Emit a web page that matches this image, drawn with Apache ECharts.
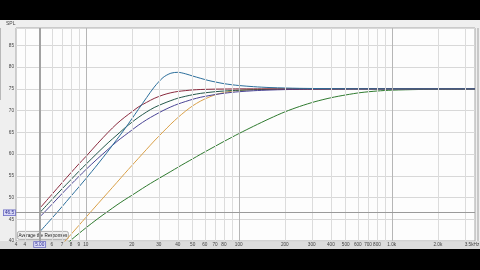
<!DOCTYPE html>
<html><head><meta charset="utf-8">
<script src="https://cdn.jsdelivr.net/npm/echarts@6/dist/echarts.min.js"></script>
<style>
html,body{margin:0;padding:0;background:#000;width:480px;height:270px;overflow:hidden}
#win{position:absolute;left:0;top:20px;width:480px;height:229px;background:#efefef}
#strip{position:absolute;left:0;top:241px;width:480px;height:8px;background:#dcdcdc}
#edgeL{position:absolute;left:0;top:28px;width:1px;height:72px;background:#b8b8b8}
#edgeR{position:absolute;left:477px;top:28px;width:2px;height:213px;background:#c8c8c8}
#c{position:absolute;left:0;top:0;width:480px;height:270px}
</style></head><body>
<div id="win"></div><div id="strip"></div><div id="edgeL"></div><div id="edgeR"></div><div id="c"></div>
<script>
// frequencies (Hz) shared by every response
const freqs = [5,6,7,8,9,10,12,14,16,18,20,22,25,28,32,36,40,45,50,56,63,71,80,90,100,125,160,200,250,315,400,500,630,800,1000,1500,2000,3500];
// SPL (dB) of each response
const lightGreen = [33.6,36.3,38.4,40.2,41.7,43.0,45.15,46.85,48.3,49.5,50.5,51.45,52.7,53.75,54.95,56.0,56.95,58.0,58.9,59.9,60.9,61.9,62.9,63.85,64.7,66.4,68.2,69.7,70.95,72.05,72.95,73.6,74.15,74.5,74.7,74.85,74.92,74.97];
const orange = [33.3,36.5,39.2,41.5,43.55,45.4,48.55,51.2,53.5,55.55,57.35,58.95,61.1,63.0,65.1,66.9,68.4,69.9,71.1,72.15,73.0,73.7,74.13,74.47,74.62,74.84,74.94,74.97,74.99,75,75,75,75,75,75,75,75,75];
const darkGreen = [46.5,49.5,52.0,54.1,56.0,57.6,60.35,62.6,64.4,66.0,67.3,68.4,69.7,70.7,71.6,72.3,72.85,73.3,73.65,73.95,74.17,74.36,74.5,74.61,74.68,74.8,74.88,74.92,74.95,74.97,74.98,74.99,75,75,75,75,75,75];
const purple = [45.5,48.4,50.9,53.0,54.8,56.4,59.0,61.1,62.9,64.3,65.5,66.6,67.9,68.9,70.0,70.85,71.5,72.1,72.6,73.05,73.4,73.73,73.98,74.19,74.34,74.57,74.73,74.83,74.89,74.93,74.96,74.97,74.98,74.99,75,75,75,75];
const red = [47.5,50.7,53.4,55.7,57.7,59.4,62.5,65.0,67.0,68.5,69.7,70.8,71.9,72.8,73.6,74.1,74.4,74.6,74.75,74.85,74.9,74.94,74.96,74.98,75,75,75,75,75,75,75,75,75,75,75,75,75,75];
const blue = [42.1,45.2,47.9,50.3,52.4,54.3,57.7,60.7,63.4,65.8,68.1,70.2,73.0,75.4,77.6,78.6,78.8,78.45,77.95,77.45,76.95,76.55,76.2,75.95,75.77,75.5,75.3,75.2,75.12,75.08,75.05,75.03,75.02,75.01,75,75,75,75];

// axis
const freqMin = 3.5, freqMax = 3500;
const splMin = 40, splMax = 89, splStep = 5;
const gridFreqs = [4,5,6,7,8,9,10,20,30,40,50,60,70,80,90,100,200,300,400,500,600,700,800,900,1000,2000,3000];
const majorFreqs = [10,100,1000];
const tickFreqs = [3.5,4,6,7,8,9,10,20,30,40,50,60,70,80,100,200,300,400,500,600,700,800,1000,2000,3500];
const tickLabels = ['4','4','6','7','8','9','10','20','30','40','50','60','70','80','100','200','300','400','500','600','700','800','1.0k','2.0k','3.5kHz'];
const cursorFreq = 5, cursorFreqLabel = '5.00';
const cursorSpl = 46.5, cursorSplLabel = '46.5';

const FONT = 'Liberation Sans';
const lbl = {fontFamily: FONT, fontSize: 4.7, color: '#444'};

const seriesDefs = [
  ['lightGreen', lightGreen, '#2f7a2f'],
  ['orange', orange, '#d9a048'],
  ['darkGreen', darkGreen, '#24584a'],
  ['purple', purple, '#4b4596'],
  ['red', red, '#8a2a3e'],
  ['blue', blue, '#2b6e9b']
];

const markData = [];
gridFreqs.forEach(f => markData.push({xAxis: f, lineStyle: {color: majorFreqs.includes(f) ? '#b6b6b6' : '#dcdcdc', width: 1, type: 'solid'}, label: {show: false}}));
tickFreqs.forEach((f, i) => markData.push({xAxis: f, lineStyle: {width: 0, color: 'rgba(0,0,0,0)'},
  label: Object.assign({show: true, position: 'start', distance: 1.5, formatter: tickLabels[i], offset: [i === tickFreqs.length - 1 ? -3 : 0, 0]}, lbl)}));
markData.push({xAxis: cursorFreq, lineStyle: {color: '#a2a2a2', width: 2, type: 'solid'},
  label: Object.assign({}, lbl, {show: true, position: 'start', distance: 1, formatter: cursorFreqLabel, color: '#2a2a90', backgroundColor: '#d9d9f6', borderColor: '#6a6ac4', borderWidth: 0.8, padding: [0, 1, 0, 1]})});
markData.push({yAxis: cursorSpl, lineStyle: {color: '#9a9a9a', width: 1.2, type: 'solid'},
  label: Object.assign({}, lbl, {show: true, position: 'start', distance: 1, formatter: cursorSplLabel, color: '#2a2a90', backgroundColor: '#d9d9f6', borderColor: '#6a6ac4', borderWidth: 0.8, padding: [0, 1, 0, 1]})});

const series = [{
  type: 'line', name: 'grid', data: [], z: 1, silent: true,
  markLine: {silent: true, symbol: ['none', 'none'], animation: false, data: markData}
}];
seriesDefs.forEach(([name, vals, color]) => series.push({
  type: 'line', name, z: 3, silent: true, clip: true,
  data: freqs.map((f, i) => [f, vals[i]]),
  symbol: 'none', showSymbol: false, smooth: 0.3,
  lineStyle: {width: 1, color}
}));

const chart = echarts.init(document.getElementById('c'), null, {renderer: 'canvas'});
chart.setOption({
  animation: false,
  backgroundColor: 'transparent',
  grid: {left: 16, right: 5, top: 28, bottom: 29, show: true, backgroundColor: '#fdfdfd', borderColor: '#a6a6a6', borderWidth: 1},
  xAxis: {type: 'log', logBase: 10, min: freqMin, max: freqMax,
    axisLine: {show: false}, axisTick: {show: false}, axisLabel: {show: false}, splitLine: {show: false}, minorSplitLine: {show: false}},
  yAxis: {type: 'value', min: splMin, max: splMax, interval: splStep,
    axisLine: {show: false}, axisTick: {show: false},
    axisLabel: Object.assign({margin: 2, formatter: v => (v % splStep === 0 ? String(v) : '')}, lbl),
    splitLine: {lineStyle: {color: '#d8d8d8', width: 1}}},
  graphic: {elements: [
    {type: 'text', left: 6, top: 21, z: 100, style: {text: 'SPL', font: '5px "Liberation Sans"', fill: '#444'}},
    {type: 'group', left: 17, top: 231, z: 100, children: [
      {type: 'rect', shape: {x: 0, y: 0, width: 51, height: 8, r: 2}, style: {fill: '#eeeeee', stroke: '#9a9a9a', lineWidth: 0.8}},
      {type: 'text', x: 25.5, y: 4, style: {text: 'Average the Responses', font: '4.6px "Liberation Sans"', fill: '#222', align: 'center', verticalAlign: 'middle'}}
    ]}
  ]},
  series
});
</script>
</body></html>
